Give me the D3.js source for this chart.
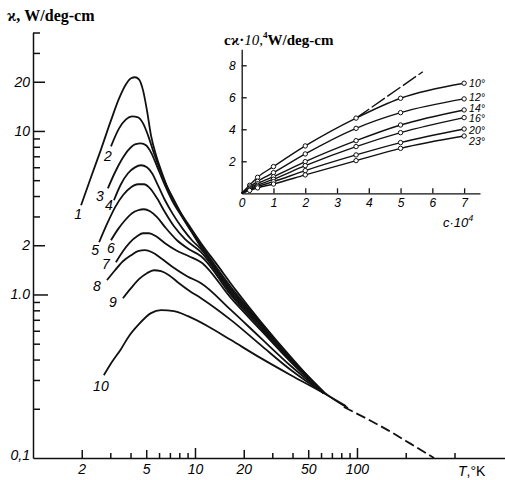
<!DOCTYPE html>
<html>
<head>
<meta charset="utf-8">
<script src="https://cdn.jsdelivr.net/npm/d3@7"></script>
<style>
  body { margin: 0; background: #fff; }
  svg { display: block; }
  .num { font-family: 'Liberation Sans Narrow', 'Liberation Sans', sans-serif; font-style: italic; }
  .title { font-family: 'Liberation Serif', 'DejaVu Serif', serif; font-weight: bold; }
  .curve { fill: none; stroke: #111; stroke-width: 1.8; }
  .thin { fill: none; stroke: #111; stroke-width: 1.4; }
  .axis path, .axis line { stroke: #111; stroke-width: 1.5; }
</style>
</head>
<body>
<div id="chart"></div>
<script>
// main plot: conductivity (W/deg-cm) against T (K), curves 1..10, [T, kappa]
const curveNames = ['1', '2', '3', '4', '5', '6', '7', '8', '9', '10'];

const curve1 = [[1.98, 3.51], [2.28, 5.21], [2.63, 7.72], [3.03, 11.6], [3.40, 15.8], [3.75, 19.3],
  [4.03, 21.0], [4.26, 21.3], [4.51, 20.7], [4.78, 17.7], [5.05, 13.4], [5.35, 9.4], [5.75, 7.1],
  [6.17, 5.75], [6.72, 4.59], [7.32, 3.88], [8.20, 3.14], [9.18, 2.65], [10.9, 2.06], [13.5, 1.55],
  [17.9, 1.06], [25.5, 0.68], [39.1, 0.414], [62.5, 0.253], [88, 0.202]];
const curve2 = [[3.03, 8.05], [3.40, 10.37], [3.75, 11.77], [4.09, 12.28], [4.45, 12.11], [4.78, 11.13],
  [5.13, 9.40], [5.58, 7.30], [6.17, 5.59], [6.91, 4.28], [7.97, 3.27], [9.18, 2.58], [10.9, 2.0],
  [16.7, 1.108], [25.5, 0.668], [39.1, 0.408], [62.5, 0.253]];
const curve3 = [[2.90, 4.46], [3.21, 5.59], [3.54, 6.71], [3.91, 7.72], [4.26, 8.28], [4.64, 8.40],
  [4.98, 8.17], [5.35, 7.40], [5.83, 6.08], [6.44, 4.79], [7.21, 3.77], [8.20, 3.05], [9.45, 2.44],
  [10.9, 1.945], [16.7, 1.077], [25.5, 0.659], [39.1, 0.403], [62.5, 0.249]];
const curve4 = [[3.16, 3.77], [3.49, 4.72], [3.86, 5.51], [4.26, 5.99], [4.64, 6.17], [5.05, 5.99],
  [5.43, 5.51], [5.91, 4.65], [6.53, 3.77], [7.32, 3.09], [8.43, 2.51], [9.58, 2.146], [10.9, 1.891],
  [16.7, 1.047], [25.5, 0.649], [39.1, 0.397], [62.5, 0.249]];
const curve5 = [[2.56, 2.086], [2.86, 2.69], [3.21, 3.41], [3.59, 4.044], [4.03, 4.525], [4.45, 4.72],
  [4.84, 4.72], [5.28, 4.46], [5.83, 3.875], [6.53, 3.18], [7.42, 2.61], [8.68, 2.18], [10.9, 1.813],
  [16.7, 1.018], [25.5, 0.640], [39.1, 0.391], [62.5, 0.249]];
const curve6 = [[3.03, 2.146], [3.35, 2.51], [3.70, 2.844], [4.09, 3.138], [4.45, 3.273], [4.84, 3.32],
  [5.28, 3.227], [5.83, 2.97], [6.62, 2.541], [7.74, 2.146], [9.18, 1.891], [10.9, 1.714],
  [16.7, 0.99], [25.5, 0.622], [39.1, 0.391], [62.5, 0.249]];
const curve7 = [[3.25, 1.575], [3.59, 1.84], [3.97, 2.086], [4.39, 2.27], [4.78, 2.369], [5.20, 2.369],
  [5.75, 2.27], [6.53, 2.057], [7.63, 1.865], [9.18, 1.714], [10.9, 1.575], [16.7, 0.949],
  [25.5, 0.605], [39.1, 0.386], [62.5, 0.249]];
const curve8 = [[2.86, 1.223], [3.21, 1.407], [3.59, 1.597], [4.03, 1.738], [4.45, 1.84], [4.91, 1.865],
  [5.43, 1.813], [6.17, 1.667], [7.32, 1.468], [8.93, 1.294], [10.9, 1.172], [16.7, 0.802],
  [25.5, 0.541], [39.1, 0.365], [62.5, 0.249]];
const curve9 = [[3.59, 0.949], [4.03, 1.093], [4.51, 1.24], [5.05, 1.349], [5.58, 1.407], [6.17, 1.388],
  [6.91, 1.312], [7.97, 1.172], [9.31, 1.047], [10.9, 0.949], [16.7, 0.697], [25.5, 0.49],
  [39.1, 0.345], [62.5, 0.249]];
const curve10 = [[2.74, 0.321], [3.07, 0.386], [3.49, 0.463], [3.91, 0.556], [4.45, 0.649], [5.35, 0.769],
  [6.17, 0.802], [7.42, 0.791], [9.05, 0.737], [12.0, 0.640], [16.7, 0.526], [25.5, 0.408],
  [39.1, 0.321], [62.5, 0.249], [85.5, 0.208]];

const mainCurves = [curve1, curve2, curve3, curve4, curve5, curve6, curve7, curve8, curve9, curve10];
const dashedTail = [[83, 0.205], [155, 0.148], [215, 0.122], [299, 0.1]];

const xTicks = [2, 3, 4, 5, 6, 7, 8, 9, 10, 20, 30, 40, 50, 60, 70, 80, 90, 100, 200, 400];
const xLabelValues = [2, 5, 10, 20, 50, 100];
const xLabelText = ['2', '5', '10', '20', '50', '100'];
const yTicks = [0.2, 0.3, 0.4, 0.5, 0.6, 0.7, 0.8, 0.9, 1, 2, 3, 4, 5, 6, 7, 8, 9, 10, 20, 30, 40];
const yLabelValues = [0.1, 1, 2, 10, 20];
const yLabelText = ['0,1', '1.0', '2', '10', '20'];

// inset: c*kappa*10^4 against c*10^4, one line per temperature
const insetC = [0, 0.25, 0.5, 1, 2, 3.6, 5, 7];
const insetTemps = ['10°', '12°', '14°', '16°', '20°', '23°'];
const ck10 = [0, 0.5, 1.0, 1.67, 2.96, 4.7, 5.94, 6.88];
const ck12 = [0, 0.4, 0.75, 1.29, 2.46, 4.06, 5.04, 5.9];
const ck14 = [0, 0.32, 0.6, 1.04, 1.98, 3.29, 4.27, 5.21];
const ck16 = [0, 0.27, 0.5, 0.88, 1.73, 2.92, 3.79, 4.73];
const ck20 = [0, 0.22, 0.42, 0.73, 1.42, 2.40, 3.17, 4.02];
const ck23 = [0, 0.18, 0.34, 0.58, 1.15, 2.04, 2.81, 3.58];
const insetSeries = [ck10, ck12, ck14, ck16, ck20, ck23];
const insetTangent = [[3.6, 4.7], [5.7, 7.6]];
const insetXTicks = [1, 2, 3, 4, 5, 6, 7];
const insetXLabels = [0, 1, 2, 3, 4, 5, 6, 7];
const insetYTicks = [2, 4, 6, 8];

// layout only
const labelNudge = [[-3, 9], [-3, 10], [-8, 8], [-5, 5], [-4, 8], [0, 8], [-10, 2], [-10, 6], [-10, 4], [-3, 11]];
const insetNudge = [0, -2, -2, 1, 1, 5];

const width = 505, height = 480;

const svg = d3.select('#chart')
  .append('svg')
  .attr('width', width)
  .attr('height', height);

const x = d3.scaleLog().domain([1, 820]).range([33, 505]);
const y = d3.scaleLog().domain([0.1, 40]).range([458, 32.5]);

const xLen = (d) => {
  if (d === 10 || d === 100) return 10;
  if (xLabelValues.indexOf(d) >= 0) return 8;
  return 5;
};
const yLen = (d) => {
  if (d === 1) return 15;
  if (yLabelValues.indexOf(d) >= 0) return 12;
  return 7;
};

const xAxisG = svg.append('g')
  .attr('class', 'axis num')
  .attr('transform', `translate(0,${y(0.1)})`)
  .call(d3.axisBottom(x)
    .tickValues(xTicks)
    .tickSizeInner(-5)
    .tickSizeOuter(0)
    .tickPadding(6)
    .tickFormat((d) => {
      const i = xLabelValues.indexOf(d);
      return i < 0 ? '' : xLabelText[i];
    }));
xAxisG.selectAll('.tick line').attr('y2', (d) => { return -xLen(d); });

const yAxisG = svg.append('g')
  .attr('class', 'axis num')
  .attr('transform', `translate(${x(1)},0)`)
  .call(d3.axisLeft(y)
    .tickValues([0.1].concat(yTicks))
    .tickSizeInner(-7)
    .tickSizeOuter(0)
    .tickPadding(3)
    .tickFormat((d) => {
      const i = yLabelValues.indexOf(d);
      return i < 0 ? '' : yLabelText[i];
    }));
yAxisG.selectAll('.tick line').attr('x2', (d) => { return d === 0.1 ? 0 : yLen(d); });

[xAxisG, yAxisG].forEach((g) => {
  g.attr('font-family', null).attr('font-size', 14);
});
yAxisG.selectAll('.tick text').filter((d) => { return d === 0.1; }).attr('dy', '0.1em');

const line = d3.line()
  .x((d) => { return x(d[0]); })
  .y((d) => { return y(d[1]); })
  .curve(d3.curveMonotoneX);

svg.append('g')
  .selectAll('path')
  .data(mainCurves)
  .join('path')
  .attr('class', 'curve')
  .attr('d', line);

svg.append('path')
  .datum(dashedTail)
  .attr('class', 'curve')
  .attr('stroke-dasharray', '10,4')
  .attr('d', line);

svg.append('g')
  .attr('class', 'num')
  .attr('font-size', 14)
  .selectAll('text')
  .data(mainCurves)
  .join('text')
  .attr('x', (d, i) => { return x(d[0][0]) + labelNudge[i][0]; })
  .attr('y', (d, i) => { return y(d[0][1]) + labelNudge[i][1]; })
  .attr('dy', '0.35em')
  .attr('text-anchor', 'middle')
  .text((d, i) => { return curveNames[i]; });

// titles
const yTitle = svg.append('text')
  .attr('class', 'title')
  .attr('x', 7)
  .attr('y', 21)
  .attr('font-size', 16);
yTitle.append('tspan').text('ϰ, ');
yTitle.append('tspan').text('W/deg-cm');

const xTitle = svg.append('text')
  .attr('x', 458)
  .attr('y', 476)
  .attr('font-size', 14)
  .attr('font-family', "'Liberation Sans Narrow', 'Liberation Sans', sans-serif");
xTitle.append('tspan').attr('font-style', 'italic').text('T');
xTitle.append('tspan').text(',°K');

// inset
const ix = d3.scaleLinear().domain([0, 7.5]).range([241.7, 480]);
const iy = d3.scaleLinear().domain([0, 9]).range([193.3, 49.3]);

const ixAxis = svg.append('g')
  .attr('class', 'axis num')
  .attr('transform', `translate(0,${iy(0)})`)
  .call(d3.axisBottom(ix)
    .tickValues(insetXLabels)
    .tickSizeInner(-5)
    .tickSizeOuter(0)
    .tickPadding(5)
    .tickFormat(d3.format('d')));
ixAxis.selectAll('.tick line').attr('y2', (d) => { return insetXTicks.indexOf(d) >= 0 ? -5 : 0; });

const iyAxis = svg.append('g')
  .attr('class', 'axis num')
  .attr('transform', `translate(${ix(0)},0)`)
  .call(d3.axisLeft(iy)
    .tickValues(insetYTicks)
    .tickSizeInner(-5)
    .tickSizeOuter(0)
    .tickPadding(6)
    .tickFormat(d3.format('d')));

[ixAxis, iyAxis].forEach((g) => {
  g.attr('font-family', null).attr('font-size', 12);
  g.selectAll('path, line').style('stroke-width', 1.3);
});

const iline = d3.line()
  .x((d) => { return ix(d[0]); })
  .y((d) => { return iy(d[1]); })
  .curve(d3.curveMonotoneX);

const insetRows = insetSeries.map((vals) => {
  return vals.map((v, i) => { return [insetC[i], v]; });
});

svg.append('g')
  .selectAll('path')
  .data(insetRows)
  .join('path')
  .attr('class', 'thin')
  .attr('d', iline);

svg.append('path')
  .datum(insetTangent)
  .attr('class', 'thin')
  .attr('stroke-width', 1.1)
  .attr('stroke-dasharray', '16,3')
  .attr('d', d3.line().x((d) => { return ix(d[0]); }).y((d) => { return iy(d[1]); }));

svg.append('g')
  .selectAll('circle')
  .data(insetRows.flatMap((r) => { return r.filter((p) => { return p[0] > 0; }); }))
  .join('circle')
  .attr('cx', (d) => { return ix(d[0]); })
  .attr('cy', (d) => { return iy(d[1]); })
  .attr('r', 2.2)
  .attr('fill', '#fff')
  .attr('stroke', '#111')
  .attr('stroke-width', 1);

svg.append('g')
  .attr('class', 'num')
  .attr('font-size', 10.5)
  .selectAll('text')
  .data(insetRows)
  .join('text')
  .attr('x', ix(7) + 5)
  .attr('y', (d, i) => { return iy(d[d.length - 1][1]) + insetNudge[i]; })
  .attr('dy', '0.36em')
  .text((d, i) => { return insetTemps[i]; });

const iyTitle = svg.append('text')
  .attr('class', 'title')
  .attr('x', 224)
  .attr('y', 45)
  .attr('font-size', 15);
iyTitle.append('tspan').text('cϰ·');
iyTitle.append('tspan').attr('font-style', 'italic').attr('font-weight', 'normal').text('10,');
iyTitle.append('tspan').attr('font-size', 9).attr('dy', -7).text('4');
iyTitle.append('tspan').attr('dy', 7).text('W/deg-cm');

const ixTitle = svg.append('text')
  .attr('class', 'num')
  .attr('x', 443)
  .attr('y', 227)
  .attr('font-size', 13);
ixTitle.append('tspan').text('c·10');
ixTitle.append('tspan').attr('font-size', 9).attr('dy', -6).text('4');
</script>
</body>
</html>
